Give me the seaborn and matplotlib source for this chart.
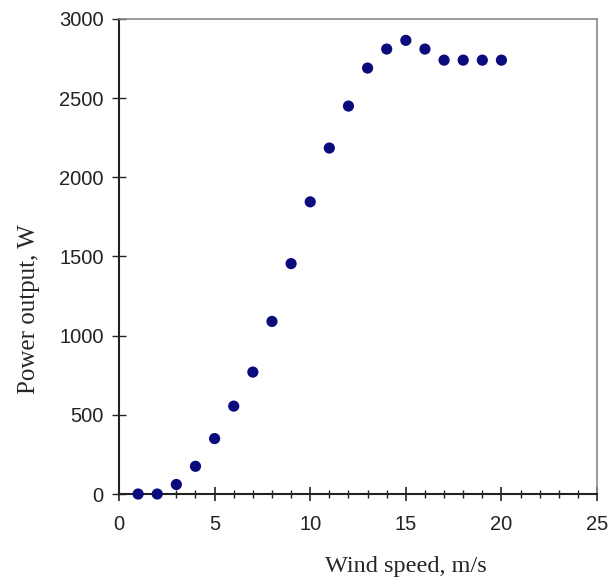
import matplotlib
matplotlib.use("Agg")
import matplotlib.pyplot as plt
from matplotlib.ticker import MultipleLocator
import pandas as pd
import seaborn as sns

# Data
wind_speed = [1, 2, 3, 4, 5, 6, 7, 8, 9, 10, 11, 12, 13, 14, 15, 16, 17, 18, 19, 20]
power_output = [0, 0, 60, 175, 350, 555, 770, 1090, 1455, 1845,
                2185, 2450, 2690, 2810, 2865, 2810, 2740, 2740, 2740, 2740]

df = pd.DataFrame({"wind": wind_speed, "power": power_output})

sns.set_style("white")
plt.rcParams["font.family"] = ["Liberation Sans", "DejaVu Sans"]

fig = plt.figure(figsize=(6.08, 5.82), dpi=100)
ax = fig.add_axes([0.1957, 0.1512, 0.7863, 0.8162])

sns.scatterplot(data=df, x="wind", y="power", ax=ax, color="#0b0b7d",
                s=65, edgecolor="none", zorder=3, clip_on=False)

ax.set_xlim(0, 25)
ax.set_ylim(0, 3000)
ax.xaxis.set_major_locator(MultipleLocator(5))
ax.xaxis.set_minor_locator(MultipleLocator(1))
ax.yaxis.set_major_locator(MultipleLocator(500))

ax.tick_params(axis="x", which="major", direction="inout", length=10, width=1.2,
               color="#222222", labelsize=14.5, labelcolor="#222222", pad=10, bottom=True)
ax.tick_params(axis="x", which="minor", direction="inout", length=6, width=1,
               color="#222222", bottom=True)
ax.tick_params(axis="y", which="major", direction="inout", length=10, width=1,
               color="#222222", labelsize=14.5, labelcolor="#222222", pad=6, left=True)

for side in ["left", "bottom"]:
    ax.spines[side].set_color("#222222")
    ax.spines[side].set_linewidth(1.5)
for side in ["top", "right"]:
    ax.spines[side].set_color("#888888")
    ax.spines[side].set_linewidth(1.2)

ax.set_xlabel("Wind speed, m/s", fontsize=17.5, family="Liberation Serif")
ax.set_ylabel("Power output, W", fontsize=18, family="Liberation Serif")
ax.xaxis.set_label_coords(0.6, -0.13)
ax.yaxis.set_label_coords(-0.165, 0.39)

fig.savefig("out.png", dpi=100)
